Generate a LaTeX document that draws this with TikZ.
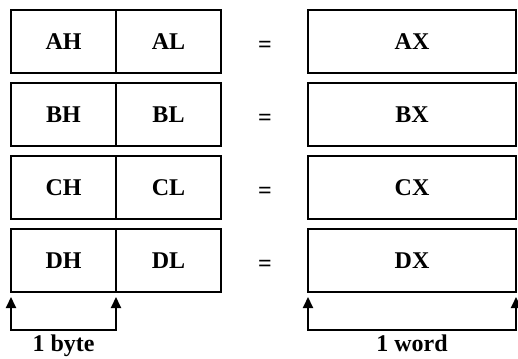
\documentclass[tikz,border=0pt]{standalone}
\usepackage{fontspec}
\setmainfont{Liberation Serif}
\usetikzlibrary{positioning, arrows.meta}

\begin{document}
\begin{tikzpicture}[
    x=1pt, y=-1pt,
    font=\fontsize{24}{28}\selectfont\bfseries,
    node distance=10pt,
    cell/.style={rectangle, draw, line width=1.6pt, outer sep=0pt, minimum width=105pt, minimum height=63pt, inner sep=0pt},
    word/.style={cell, minimum width=208pt},
    equal/.style={inner sep=0pt},
    span/.style={{Triangle[width=10pt,length=11pt]}-{Triangle[width=10pt,length=11pt]}, line width=2pt}
]
    \useasboundingbox (0,0) rectangle (518,358);

    % Left side: high and low bytes
    \node[cell] (ah) at (63.5,41.5) {AH};
    \node[cell, right=0pt of ah] (al) {AL};
    \node[cell, below=of ah] (bh) {BH};
    \node[cell, right=0pt of bh] (bl) {BL};
    \node[cell, below=of bh] (ch) {CH};
    \node[cell, right=0pt of ch] (cl) {CL};
    \node[cell, below=of ch] (dh) {DH};
    \node[cell, right=0pt of dh] (dl) {DL};

    % Right side: whole words
    \node[word] (ax) at (412,41.5) {AX};
    \node[word, below=of ax] (bx) {BX};
    \node[word, below=of bx] (cx) {CX};
    \node[word, below=of cx] (dx) {DX};

    % Equal signs in between
    \node[equal] (eqa) at (265,47) {=};
    \node[equal] at ([yshift=-5.5pt]eqa |- bx) (eqb) {=};
    \node[equal] at ([yshift=-5.5pt]eqa |- cx) (eqc) {=};
    \node[equal] at ([yshift=-5.5pt]eqa |- dx) (eqd) {=};

    % Size brackets
    \coordinate (byteL) at ([yshift=-38pt]dh.south west);
    \coordinate (byteR) at ([yshift=-38pt]dh.south east);
    \draw[span] ([yshift=-5pt]dh.south west) -- (byteL) -- (byteR)
        node[midway, below=1pt] (byte) {1 byte} -- ([yshift=-5pt]dh.south east);

    \coordinate (wordL) at ([yshift=-38pt]dx.south west);
    \coordinate (wordR) at ([yshift=-38pt]dx.south east);
    \draw[span] ([yshift=-5pt]dx.south west) -- (wordL) -- (wordR)
        node[midway, below=1pt] (wordlbl) {1 word} -- ([yshift=-5pt]dx.south east);
\end{tikzpicture}
\end{document}
